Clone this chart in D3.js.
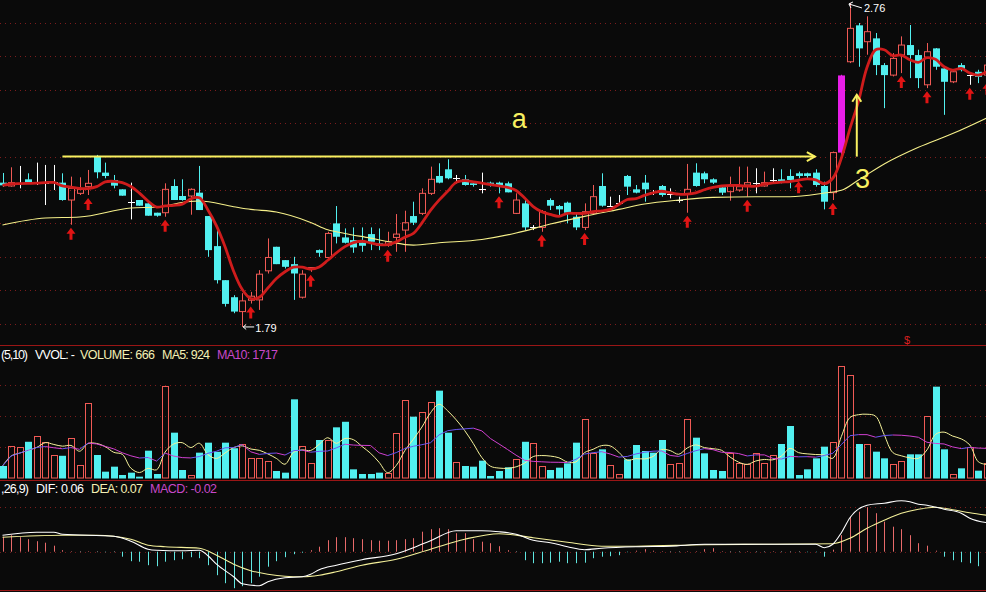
<!DOCTYPE html>
<html><head><meta charset="utf-8">
<script src="https://cdn.jsdelivr.net/npm/d3@7"></script>
<style>html,body{margin:0;padding:0;background:#0a0a0a;overflow:hidden}svg{display:block}</style>
</head><body>
<svg id="chart" width="986" height="592"></svg>
<script>
// ---------- DATA ----------
const opens = [2.222,2.212,2.222,2.232,2.222,2.222,2.225,2.222,2.170,2.190,2.210,2.302,2.252,2.230,2.202,2.163,2.170,2.160,2.132,2.132,
2.212,2.182,2.182,2.192,2.122,2.032,1.930,1.879,1.836,1.870,1.871,1.958,2.030,1.990,1.978,1.879,1.962,2.020,1.998,2.100,
2.058,2.050,2.043,2.068,2.040,2.035,2.058,2.080,2.122,2.130,2.190,2.242,2.262,2.235,2.232,2.220,2.203,2.222,2.222,2.220,
2.130,2.160,2.088,2.088,2.170,2.152,2.162,2.120,2.088,2.130,2.212,2.153,2.162,2.242,2.202,2.222,2.193,2.212,2.188,2.170,
2.188,2.252,2.250,2.232,2.208,2.195,2.200,2.215,2.222,2.212,2.230,2.232,2.242,2.250,2.250,2.252,2.212,2.192,2.312,2.584,
2.693,2.644,2.654,2.574,2.544,2.604,2.634,2.604,2.515,2.624,2.564,2.524,2.574,2.545,2.554,2.544];
const highs = [2.251,2.268,2.272,2.250,2.282,2.275,2.275,2.250,2.240,2.238,2.260,2.305,2.282,2.245,2.202,2.222,2.170,2.170,2.132,2.220,
2.232,2.232,2.205,2.272,2.122,2.080,1.930,1.885,1.891,1.895,1.960,2.055,2.030,1.990,2.000,1.960,1.968,2.022,2.075,2.152,
2.085,2.088,2.088,2.088,2.085,2.075,2.128,2.138,2.165,2.205,2.270,2.280,2.292,2.245,2.245,2.225,2.252,2.225,2.225,2.225,
2.190,2.170,2.095,2.140,2.175,2.155,2.165,2.128,2.160,2.215,2.250,2.180,2.185,2.245,2.215,2.245,2.200,2.215,2.205,2.180,
2.278,2.280,2.255,2.235,2.210,2.240,2.270,2.270,2.265,2.255,2.265,2.262,2.262,2.255,2.252,2.262,2.225,2.315,2.545,2.760,
2.700,2.720,2.670,2.580,2.610,2.660,2.694,2.620,2.640,2.625,2.570,2.560,2.580,2.545,2.560,2.580];
const lows = [2.209,2.210,2.205,2.218,2.215,2.155,2.200,2.168,2.096,2.185,2.185,2.235,2.235,2.205,2.183,2.112,2.153,2.123,2.120,2.120,
2.170,2.168,2.126,2.140,2.000,1.920,1.851,1.831,1.790,1.860,1.841,1.950,1.978,1.965,1.871,1.875,1.955,2.000,1.995,2.040,
2.040,2.012,2.015,2.020,2.020,2.030,2.015,2.015,2.095,2.125,2.185,2.220,2.232,2.220,2.213,2.210,2.190,2.210,2.190,2.193,
2.128,2.080,2.080,2.075,2.140,2.120,2.100,2.080,2.080,2.125,2.150,2.150,2.160,2.185,2.190,2.165,2.185,2.180,2.175,2.162,
2.132,2.210,2.220,2.218,2.185,2.168,2.195,2.180,2.190,2.210,2.222,2.220,2.205,2.235,2.235,2.210,2.142,2.170,2.300,2.580,
2.569,2.605,2.544,2.445,2.540,2.550,2.535,2.505,2.505,2.560,2.425,2.520,2.555,2.515,2.520,2.530];
const closes = [2.214,2.222,2.222,2.222,2.222,2.222,2.225,2.170,2.205,2.202,2.220,2.253,2.242,2.213,2.183,2.162,2.153,2.123,2.123,2.202,
2.170,2.170,2.202,2.140,2.020,1.930,1.859,1.836,1.868,1.882,1.948,1.998,1.978,1.970,1.950,1.948,1.968,2.012,2.070,2.060,
2.042,2.028,2.033,2.045,2.033,2.045,2.068,2.102,2.102,2.190,2.232,2.222,2.235,2.235,2.215,2.215,2.202,2.215,2.213,2.193,
2.170,2.088,2.088,2.135,2.153,2.142,2.132,2.088,2.135,2.180,2.153,2.153,2.162,2.210,2.192,2.202,2.192,2.185,2.188,2.170,
2.202,2.212,2.232,2.222,2.192,2.212,2.210,2.222,2.222,2.222,2.230,2.222,2.230,2.242,2.242,2.215,2.165,2.312,2.543,2.684,
2.624,2.674,2.574,2.544,2.594,2.634,2.604,2.535,2.614,2.569,2.524,2.554,2.559,2.545,2.539,2.574];
const volumes = [540,1440,1380,1630,1890,1610,1035,1000,1790,585,3360,1035,285,510,135,240,60,1230,180,4140,
2040,360,135,1140,1590,1180,1590,1340,1530,885,885,780,315,240,3540,1440,660,1710,1710,2280,
2530,390,180,180,240,210,2010,3510,2760,2980,3410,3930,2040,735,540,510,780,90,315,480,
840,1630,1560,540,360,465,660,1590,2640,1110,1290,585,165,840,1485,1215,1140,1710,615,660,
2640,1815,1110,360,315,1110,660,630,1110,660,1035,1530,2340,135,390,885,1410,1630,5040,4635,
1530,1515,1185,885,630,780,1065,1065,2790,4110,1290,180,435,1410,330,666];
const macdHist = [0.030,0.033,0.029,0.025,0.021,0.018,0.012,0.003,0.001,0,0.001,0,-0.001,0,-0.010,-0.019,-0.020,-0.027,-0.029,-0.020,
-0.017,-0.015,-0.011,-0.013,-0.027,-0.047,-0.063,-0.073,-0.069,-0.063,-0.050,-0.030,-0.019,-0.011,-0.005,-0.002,0.003,0.010,0.023,0.029,
0.029,0.027,0.025,0.023,0.022,0.022,0.023,0.025,0.027,0.040,0.045,0.047,0.045,0.037,0.037,0.025,0.020,0.017,0.011,0.003,
0,-0.017,-0.023,-0.023,-0.022,-0.020,-0.023,-0.023,-0.022,-0.013,-0.010,-0.009,-0.007,-0.001,0.002,0.005,0.002,0.001,0,0,
0.001,0.001,0.005,0.007,0.001,0,0,0.001,0,0,0.001,0,0,0,-0.001,-0.001,-0.010,0.004,0.033,0.070,
0.080,0.089,0.077,0.060,0.050,0.045,0.033,0.017,0.012,0.002,-0.010,-0.017,-0.021,-0.023,-0.029,-0.030];
const difIdx = [0,4,6,7,13,15,17,18,21,23,24,25,27,28,30,31,33,35,36,37,39,42,46,48,50,53,56,58,60,62,64,66,68,70,74,78,82,90,95,96,97,98,99,101,103,105,106,107,108,110,112,113,115];
const difVal = [0.033,0.039,0.039,0.035,0.031,0.021,0.005,0.003,0.002,0.003,-0.008,-0.025,-0.050,-0.064,-0.068,-0.060,-0.052,-0.050,-0.045,-0.036,-0.027,-0.016,-0.004,0.008,0.022,0.042,0.042,0.040,0.035,0.023,0.018,0.010,0.004,0.007,0.010,0.011,0.015,0.015,0.015,0.008,0.015,0.038,0.068,0.093,0.097,0.102,0.100,0.095,0.093,0.085,0.077,0.067,0.058];
const deaIdx = [0,7,11,15,17,19,23,25,27,29,31,33,35,37,39,42,46,50,54,58,62,66,70,74,82,90,97,99,101,103,105,107,109,111,113,115];
const deaVal = [0.029,0.033,0.033,0.025,0.013,0.010,0.007,-0.007,-0.025,-0.038,-0.045,-0.049,-0.050,-0.047,-0.040,-0.027,-0.015,0.005,0.025,0.036,0.028,0.019,0.011,0.011,0.014,0.015,0.016,0.027,0.047,0.063,0.077,0.085,0.089,0.084,0.078,0.073];
const maLongIdx = [0,5,9,15,18,22,23,27,29,32,36,38,40,43,45,48,51,56,60,64,68,72,75,79,83,88,92,96,98,100,103,107,111,115];
const maLongVal = [2.095,2.116,2.119,2.146,2.149,2.166,2.167,2.150,2.142,2.134,2.103,2.081,2.070,2.056,2.046,2.035,2.042,2.052,2.071,2.098,2.121,2.142,2.158,2.170,2.178,2.180,2.180,2.191,2.199,2.230,2.278,2.328,2.369,2.416];
const signalIdx = [8,10,19,29,36,45,58,63,68,80,87,93,97,105,108,113,115];
const limitUpIdx = [98];
const priceTicks = [1.8,1.9,2.0,2.1,2.2,2.3,2.4,2.5,2.6,2.7];
const volTicks = [1400,2800,4200];
const macdTicks = [0.09];
const trendLine = {fromIdx: 7, toIdx: 94.9, price: 2.30};
const riseArrow = {idx: 99.8, fromPrice: 2.30, toPrice: 2.485};
const noteLabels = [{text:"a", idx: 59.5, price: 2.385}, {text:"3", idx: 99.6, price: 2.205}];
const volLegend = [["(5,10)", "#ffffff"], ["VVOL: -", "#ffffff"], ["VOLUME: 666", "#f4f0b4"], ["MA5: 924", "#f4f0b4"], ["MA10: 1717", "#c848c8"]];
const macdLegend = [[",26,9)", "#ffffff"], ["DIF: 0.06", "#ffffff"], ["DEA: 0.07", "#f4f0b4"], ["MACD: -0.02", "#c848c8"]];

// ---------- CHART ----------
const W = 986, H = 592;
const svg = d3.select("#chart");
svg.append("rect").attr("width", W).attr("height", H).attr("fill", "#0a0a0a");
const N = closes.length;
const x = d3.scaleLinear().domain([0, 115]).range([2.5, 986.9]);
const yP = d3.scaleLinear().domain([1.8, 2.7]).range([323.6, 23]);
const yV = d3.scaleLinear().domain([0, 4500]).range([478, 378]);
const yM = d3.scaleLinear().domain([0, 0.1]).range([551.7, 501.7]);
const FONT = "'Liberation Sans', Arial, sans-serif";
const RED = "#f05a55", CYAN = "#52f0f0";
const px = i => Math.round(x(i)) + 0.5;

const defs = svg.append("defs");
defs.append("clipPath").attr("id", "cp").append("rect").attr("x", 0).attr("y", 0).attr("width", W).attr("height", 344);
defs.append("clipPath").attr("id", "cv").append("rect").attr("x", 0).attr("y", 347).attr("width", W).attr("height", 132);
defs.append("clipPath").attr("id", "cm").append("rect").attr("x", 0).attr("y", 482).attr("width", W).attr("height", 107);

// grid lines
const grid = svg.append("g");
grid.selectAll(".pg").data(priceTicks).join("line")
  .attr("x1", 0).attr("x2", W).attr("y1", d => Math.round(yP(d)) + 0.5).attr("y2", d => Math.round(yP(d)) + 0.5)
  .attr("stroke", "#7c1c1c").attr("stroke-dasharray", "1,4");
grid.selectAll(".vg").data(volTicks).join("line")
  .attr("x1", 0).attr("x2", W).attr("y1", d => Math.round(yV(d)) + 0.5).attr("y2", d => Math.round(yV(d)) + 0.5)
  .attr("stroke", "#7c1c1c").attr("stroke-dasharray", "1,4");
grid.selectAll(".mg").data(macdTicks).join("line")
  .attr("x1", 0).attr("x2", W).attr("y1", d => Math.round(yM(d)) + 0.5).attr("y2", d => Math.round(yM(d)) + 0.5)
  .attr("stroke", "#7c1c1c").attr("stroke-dasharray", "1,4");
grid.append("line").attr("x1", 0).attr("x2", W).attr("y1", Math.round(yM(0)) + 0.5).attr("y2", Math.round(yM(0)) + 0.5)
  .attr("stroke", "#6a1a1a").attr("stroke-dasharray", "1,4");

// panel borders
[345.5, 480.5, 590.5].forEach(yy => svg.append("line").attr("x1", 0).attr("x2", W).attr("y1", yy).attr("y2", yy)
  .attr("stroke", "#9a1616").attr("stroke-width", 1.2));

// ---------- PRICE PANEL ----------
const gp = svg.append("g").attr("clip-path", "url(#cp)");
const idx = d3.range(N);
const isDoji = i => Math.abs(opens[i] - closes[i]) < 0.0015;
const BW = 6;
idx.forEach(i => {
  const cx = px(i), o = opens[i], c = closes[i], h = highs[i], l = lows[i];
  if (limitUpIdx.includes(i)) {
    gp.append("line").attr("x1", cx).attr("x2", cx).attr("y1", yP(h)).attr("y2", yP(l)).attr("stroke", "#e81ee8");
    gp.append("rect").attr("x", cx - 3.5).attr("width", 7).attr("y", yP(c)).attr("height", yP(o) - yP(c)).attr("fill", "#e81ee8");
  } else if (isDoji(i)) {
    gp.append("line").attr("x1", cx).attr("x2", cx).attr("y1", yP(h)).attr("y2", yP(l)).attr("stroke", "#ffffff");
    gp.append("line").attr("x1", cx - 3.5).attr("x2", cx + 3.5).attr("y1", Math.round(yP(o)) + 0.5).attr("y2", Math.round(yP(o)) + 0.5).attr("stroke", "#ffffff");
  } else if (c > o) {
    const top = yP(c), bot = yP(o);
    gp.append("line").attr("x1", cx).attr("x2", cx).attr("y1", yP(h)).attr("y2", top).attr("stroke", RED);
    gp.append("line").attr("x1", cx).attr("x2", cx).attr("y1", bot).attr("y2", yP(l)).attr("stroke", RED);
    gp.append("rect").attr("x", cx - 3).attr("width", BW).attr("y", top).attr("height", Math.max(1, bot - top))
      .attr("fill", "none").attr("stroke", RED);
  } else {
    const top = yP(o), bot = yP(c);
    gp.append("line").attr("x1", cx).attr("x2", cx).attr("y1", yP(h)).attr("y2", yP(l)).attr("stroke", CYAN);
    gp.append("rect").attr("x", cx - 3.5).attr("width", BW + 1).attr("y", top).attr("height", Math.max(1.5, bot - top)).attr("fill", CYAN);
  }
});

// long MA (yellow)
gp.append("path").datum(maLongIdx.map((d, k) => [d, maLongVal[k]]))
  .attr("d", d3.line().x(d => x(d[0])).y(d => yP(d[1])).curve(d3.curveMonotoneX))
  .attr("fill", "none").attr("stroke", "#f6f08a").attr("stroke-width", 1.1);
// MA5 of closes (red)
const ma5 = idx.map(i => d3.mean(closes.slice(Math.max(0, i - 4), i + 1)));
gp.append("path").datum(ma5)
  .attr("d", d3.line().x((d, i) => x(i)).y(d => yP(d)).curve(d3.curveCatmullRom))
  .attr("fill", "none").attr("stroke", "#cf1c1c").attr("stroke-width", 2.8);

// signal arrows
signalIdx.forEach(i => {
  const cx = x(i), ty = yP(lows[i]) + 3;
  gp.append("path").attr("transform", `translate(${cx},${ty})`)
    .attr("d", "M0,0 L4.5,6 L1.5,6 L1.5,12 L-1.5,12 L-1.5,6 L-4.5,6 Z").attr("fill", "#e01414");
});

// annotations
const ann = gp.append("g").attr("stroke", "#f8f060").attr("fill", "none").attr("stroke-width", 2);
const ty0 = yP(trendLine.price), tx1 = x(trendLine.toIdx);
ann.append("line").attr("x1", x(trendLine.fromIdx)).attr("x2", tx1).attr("y1", ty0).attr("y2", ty0);
ann.append("polyline").attr("points", `${tx1 - 8},${ty0 - 4.5} ${tx1},${ty0} ${tx1 - 8},${ty0 + 4.5}`);
const ax = x(riseArrow.idx), ay0 = yP(riseArrow.fromPrice), ay1 = yP(riseArrow.toPrice);
ann.append("line").attr("x1", ax).attr("x2", ax).attr("y1", ay0).attr("y2", ay1);
ann.append("polyline").attr("points", `${ax - 4.5},${ay1 + 7} ${ax},${ay1} ${ax + 4.5},${ay1 + 7}`);
gp.selectAll(".note").data(noteLabels).join("text")
  .attr("x", d => x(d.idx)).attr("y", d => yP(d.price)).text(d => d.text)
  .attr("fill", "#f8f060").attr("font-family", FONT).attr("font-size", 27);

// extreme labels
const iMax = d3.maxIndex(highs), iMin = d3.minIndex(lows);
const hx = x(iMax), hy = yP(highs[iMax]);
gp.append("path").attr("d", `M${hx - 1},${hy + 1} L${hx + 12},${hy + 5} M${hx - 1},${hy + 1} L${hx + 3},${hy - 1} M${hx - 1},${hy + 1} L${hx + 1},${hy + 5}`)
  .attr("stroke", "#ffffff").attr("fill", "none");
gp.append("text").attr("x", hx + 14).attr("y", hy + 9).text(highs[iMax].toFixed(2))
  .attr("fill", "#ffffff").attr("font-family", FONT).attr("font-size", 11);
const lx = x(iMin), ly = yP(lows[iMin]);
gp.append("path").attr("d", `M${lx + 1},${ly} L${lx + 12},${ly} M${lx + 1},${ly} L${lx + 4},${ly - 2.5} M${lx + 1},${ly} L${lx + 4},${ly + 2.5}`)
  .attr("stroke", "#ffffff").attr("fill", "none");
gp.append("text").attr("x", lx + 13).attr("y", ly + 5).text(lows[iMin].toFixed(2))
  .attr("fill", "#ffffff").attr("font-family", FONT).attr("font-size", 11);

svg.append("text").attr("x", 904).attr("y", 344).text("$").attr("fill", "#d82020")
  .attr("font-family", FONT).attr("font-size", 11);

// ---------- VOLUME PANEL ----------
const gv = svg.append("g").attr("clip-path", "url(#cv)");
idx.forEach(i => {
  const cx = x(i), v = volumes[i], top = yV(v), up = closes[i] >= opens[i];
  if (up) {
    gv.append("rect").attr("x", Math.round(cx) - 2.5).attr("width", 6).attr("y", Math.round(top) + 0.5)
      .attr("height", Math.max(1, 478 - Math.round(top) - 0.5)).attr("fill", "none").attr("stroke", RED);
  } else {
    gv.append("rect").attr("x", Math.round(cx) - 3).attr("width", 7).attr("y", top)
      .attr("height", 478.5 - top).attr("fill", CYAN);
  }
});
const vma = n => idx.map(i => d3.mean(volumes.slice(Math.max(0, i - n + 1), i + 1)));
const vma5 = vma(5), vma10 = vma(10);
gv.append("path").datum(vma5)
  .attr("d", d3.line().x((d, i) => x(i)).y(d => yV(d)).curve(d3.curveCatmullRom))
  .attr("fill", "none").attr("stroke", "#f6f29a").attr("stroke-width", 1);
for (let i = 0; i < N - 1; i++) {
  gv.append("line").attr("x1", x(i)).attr("x2", x(i + 1)).attr("y1", yV(vma10[i])).attr("y2", yV(vma10[i + 1]))
    .attr("stroke", vma10[i + 1] > vma10[i] ? "#6a56f0" : "#d040d0").attr("stroke-width", 1);
}
const vg = svg.append("g").attr("font-family", FONT).attr("font-size", 12.5);
const volX = [1, 35, 80, 162, 217], volLen = [27, 40, 75, 48, 61];
volLegend.forEach((d, k) => vg.append("text").attr("x", volX[k]).attr("y", 359).text(d[0]).attr("fill", d[1])
  .attr("textLength", volLen[k]).attr("lengthAdjust", "spacing"));

// ---------- MACD PANEL ----------
const gm = svg.append("g").attr("clip-path", "url(#cm)");
idx.forEach(i => {
  const v = macdHist[i];
  if (Math.abs(v) < 0.0005) {
    gm.append("rect").attr("x", px(i) - 0.5).attr("y", yM(0) - 0.5).attr("width", 1).attr("height", 1).attr("fill", "#777");
    return;
  }
  gm.append("line").attr("x1", px(i)).attr("x2", px(i)).attr("y1", yM(0)).attr("y2", yM(v))
    .attr("stroke", v > 0 ? "#e86a6a" : "#60e6e0").attr("stroke-width", 1);
});
gm.append("path").datum(deaIdx.map((d, k) => [d, deaVal[k]]))
  .attr("d", d3.line().x(d => x(d[0])).y(d => yM(d[1])).curve(d3.curveMonotoneX))
  .attr("fill", "none").attr("stroke", "#f4f09a").attr("stroke-width", 1.1);
gm.append("path").datum(difIdx.map((d, k) => [d, difVal[k]]))
  .attr("d", d3.line().x(d => x(d[0])).y(d => yM(d[1])).curve(d3.curveMonotoneX))
  .attr("fill", "none").attr("stroke", "#ffffff").attr("stroke-width", 1.1);
const mg = svg.append("g").attr("font-family", FONT).attr("font-size", 12.5);
const macdX = [1, 36, 91, 150], macdLen = [28, 48, 52, 67];
macdLegend.forEach((d, k) => mg.append("text").attr("x", macdX[k]).attr("y", 493).text(d[0]).attr("fill", d[1])
  .attr("textLength", macdLen[k]).attr("lengthAdjust", "spacing"));
</script>
</body></html>
